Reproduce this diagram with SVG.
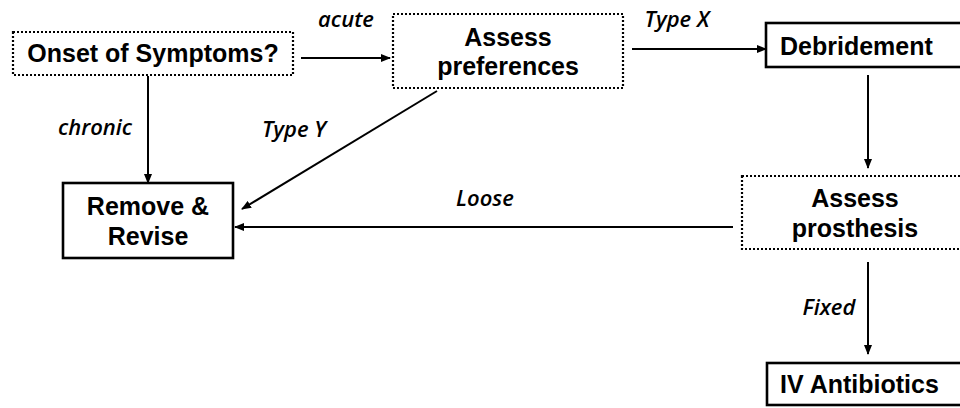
<svg xmlns="http://www.w3.org/2000/svg" width="960" height="408" viewBox="0 0 960 408">
<defs>
<marker id="ah" markerUnits="userSpaceOnUse" markerWidth="10" markerHeight="8" refX="9" refY="4" orient="auto">
<path d="M0,0 L10,4 L0,8 z" fill="#000"/>
</marker>
<style>
.solid{fill:#fff;stroke:#000;stroke-width:2.6}
.dot{fill:#fff;stroke:#000;stroke-width:2.2;stroke-dasharray:2 2}
.bt{font-family:"Liberation Sans",Arial,sans-serif;font-weight:700;font-size:25px;fill:#000}
.lb{font-family:"Open Sans","Liberation Sans",sans-serif;font-weight:600;font-style:italic;font-size:22px;fill:#000}
.c{stroke:#000;stroke-width:2;fill:none;marker-end:url(#ah)}
</style>
</defs>
<rect width="960" height="408" fill="#fff"/>
<g id="connectors">
<line class="c" x1="301" y1="58" x2="390" y2="58"/>
<line class="c" x1="148" y1="76" x2="148" y2="183"/>
<line class="c" x1="437" y1="91" x2="242" y2="209"/>
<line class="c" x1="632" y1="49" x2="766" y2="49"/>
<line class="c" x1="868" y1="75" x2="868" y2="168"/>
<line class="c" x1="733" y1="227" x2="235" y2="227"/>
<line class="c" x1="868" y1="262" x2="868" y2="354"/>
<text class="lb" x="346" y="27" text-anchor="middle">acute</text>
<text class="lb" x="95" y="135" text-anchor="middle">chronic</text>
<text class="lb" x="294" y="137" text-anchor="middle">Type Y</text>
<text class="lb" x="677" y="27" text-anchor="middle">Type X</text>
<text class="lb" x="485" y="206" text-anchor="middle">Loose</text>
<text class="lb" x="829" y="315" text-anchor="middle">Fixed</text>
</g>
<g id="onset">
<rect class="dot" x="13" y="32" width="280" height="43"/>
<text class="bt" x="153" y="62" text-anchor="middle">Onset of Symptoms?</text>
</g>
<g id="assess-preferences">
<rect class="dot" x="393" y="14" width="230" height="74"/>
<text class="bt" x="508" y="46" text-anchor="middle">Assess</text>
<text class="bt" x="508" y="75" text-anchor="middle">preferences</text>
</g>
<g id="debridement">
<rect class="solid" x="766" y="23" width="210" height="44"/>
<text class="bt" x="780" y="55">Debridement</text>
</g>
<g id="remove-revise">
<rect class="solid" x="63" y="183" width="170" height="75"/>
<text class="bt" x="148" y="215" text-anchor="middle">Remove &amp;</text>
<text class="bt" x="148" y="245" text-anchor="middle">Revise</text>
</g>
<g id="assess-prosthesis">
<rect class="dot" x="742" y="176" width="230" height="73"/>
<text class="bt" x="855" y="207" text-anchor="middle">Assess</text>
<text class="bt" x="855" y="237" text-anchor="middle">prosthesis</text>
</g>
<g id="iv-antibiotics">
<rect class="solid" x="767" y="363" width="210" height="42"/>
<text class="bt" x="780" y="393">IV Antibiotics</text>
</g>
</svg>
